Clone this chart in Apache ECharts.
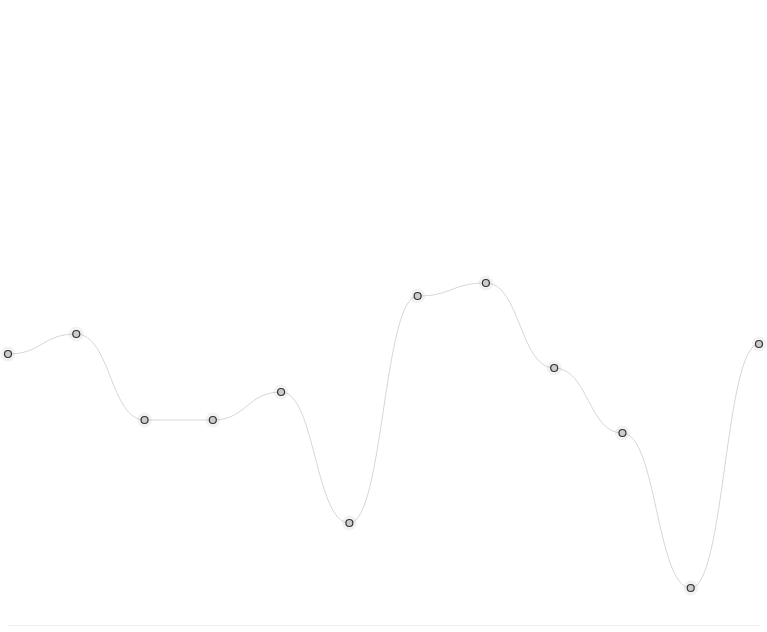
<!DOCTYPE html>
<html>
<head>
<meta charset="utf-8">
<style>html,body{margin:0;padding:0;background:#fff;}#chart{width:767px;height:632px;}</style>
<script src="https://cdn.jsdelivr.net/npm/echarts@6/dist/echarts.min.js"></script>
</head>
<body>
<div id="chart"></div>
<script>
var categories = ['1','2','3','4','5','6','7','8','9','10','11','12'];
var values = [271, 291, 205, 205, 233, 102, 329, 342, 257, 192, 37, 281];

// segments between consecutive points, drawn as horizontal-tangent cubic curves
var segments = [];
for (var i = 0; i < values.length - 1; i++) {
  segments.push([i, values[i], values[i + 1]]);
}

var chart = echarts.init(document.getElementById('chart'));
chart.setOption({
  animation: false,
  grid: { left: 8, right: 8, top: 25, bottom: 7 },
  xAxis: {
    type: 'category',
    data: categories,
    boundaryGap: false,
    axisLine: { show: true, lineStyle: { color: '#eeeeee', width: 1 } },
    axisTick: { show: false },
    axisLabel: { show: false },
    splitLine: { show: false }
  },
  yAxis: {
    type: 'value',
    min: 0,
    max: 600,
    show: false,
    splitLine: { show: false }
  },
  series: [{
    type: 'custom',
    z: 1,
    data: segments,
    renderItem: function (params, api) {
      var i = api.value(0);
      var p0 = api.coord([i, api.value(1)]);
      var p1 = api.coord([i + 1, api.value(2)]);
      var mx = (p0[0] + p1[0]) / 2;
      return {
        type: 'bezierCurve',
        shape: {
          x1: p0[0], y1: p0[1],
          x2: p1[0], y2: p1[1],
          cpx1: mx, cpy1: p0[1],
          cpx2: mx, cpy2: p1[1]
        },
        style: { stroke: '#d6d6d6', fill: null, lineWidth: 1 }
      };
    }
  }, {
    type: 'line',
    z: 2,
    data: values,
    symbol: 'circle',
    symbolSize: 15,
    lineStyle: { width: 0, opacity: 0 },
    itemStyle: { color: 'rgba(0,0,0,0.05)', borderWidth: 0 }
  }, {
    type: 'line',
    z: 3,
    data: values,
    symbol: 'circle',
    symbolSize: 7,
    lineStyle: { width: 0, opacity: 0 },
    itemStyle: {
      color: '#cccccc',
      borderColor: '#333333',
      borderWidth: 1.2
    }
  }]
});
</script>
</body>
</html>
